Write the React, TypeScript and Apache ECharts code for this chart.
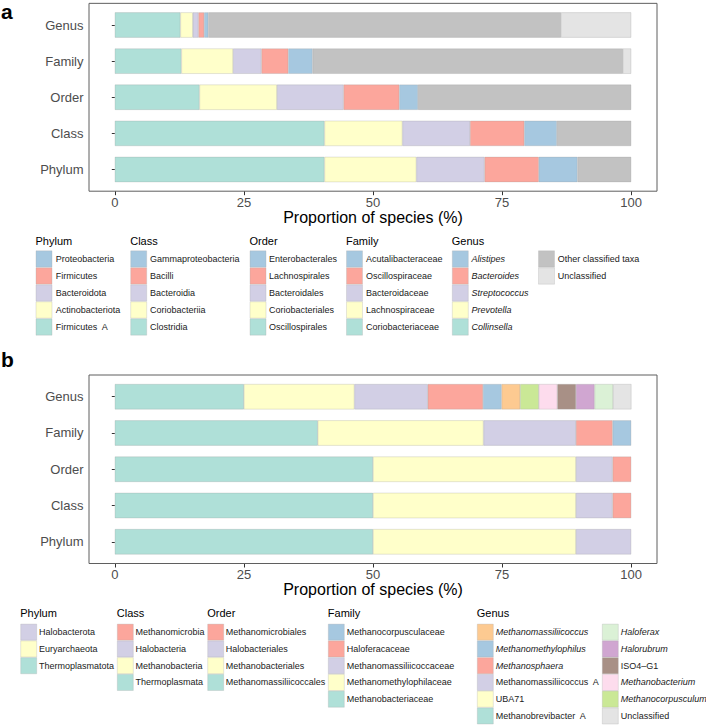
import React, { useEffect, useRef } from "react";
import * as echarts from "echarts";

const FONT = "'Liberation Sans', Arial, Helvetica, sans-serif";

// Taxonomic levels (y categories, bottom to top)
const levels = ["Phylum", "Class", "Order", "Family", "Genus"];
const xTicks = [0, 25, 50, 75, 100];

// ---- Panel a (bacteria): proportion of species (%) per segment, left to right
const bacPhylum = [40.6, 17.8, 13.2, 10.5, 7.5, 10.4, 0];
const bacClass = [40.6, 15.1, 13.1, 10.5, 6.3, 14.4, 0];
const bacOrder = [16.4, 15.0, 12.9, 10.8, 3.6, 41.3, 0];
const bacFamily = [12.9, 10.0, 5.5, 5.2, 4.7, 60.1, 1.6];
const bacGenus = [12.7, 2.4, 1.1, 1.1, 0.8, 68.3, 13.6];

// segment names (same left-to-right order)
const bacPhylumTaxa = ["Firmicutes  A", "Actinobacteriota", "Bacteroidota", "Firmicutes", "Proteobacteria"];
const bacClassTaxa = ["Clostridia", "Coriobacteriia", "Bacteroidia", "Bacilli", "Gammaproteobacteria"];
const bacOrderTaxa = ["Oscillospirales", "Coriobacteriales", "Bacteroidales", "Lachnospirales", "Enterobacterales"];
const bacFamilyTaxa = ["Coriobacteriaceae", "Lachnospiraceae", "Bacteroidaceae", "Oscillospiraceae", "Acutalibacteraceae"];
const bacGenusTaxa = ["Collinsella", "Prevotella", "Streptococcus", "Bacteroides", "Alistipes"];
const bacOtherTaxa = ["Other classified taxa", "Unclassified"];

const bacColors = ["#AFE0D8", "#FFFFCA", "#D2CFE5", "#FCA69C", "#A6C8E0", "#C2C2C2", "#E4E4E4"];

// ---- Panel b (archaea)
const arcPhylum = [50.0, 39.3, 10.7];
const arcClass = [50.0, 39.3, 7.1, 3.6];
const arcOrder = [50.0, 39.3, 7.1, 3.6];
const arcFamily = [39.3, 32.1, 17.9, 7.1, 3.6];
const arcGenus = [25.0, 21.4, 14.2, 10.7, 3.6, 3.6, 3.6, 3.6, 3.6, 3.6, 3.6, 3.6];

const arcPhylumTaxa = ["Thermoplasmatota", "Euryarchaeota", "Halobacterota"];
const arcClassTaxa = ["Thermoplasmata", "Methanobacteria", "Halobacteria", "Methanomicrobia"];
const arcOrderTaxa = ["Methanomassiliicoccales", "Methanobacteriales", "Halobacteriales", "Methanomicrobiales"];
const arcFamilyTaxa = ["Methanobacteriaceae", "Methanomethylophilaceae", "Methanomassiliicoccaceae", "Haloferacaceae", "Methanocorpusculaceae"];
const arcGenusTaxa = [
  "Methanobrevibacter  A", "UBA71", "Methanomassiliicoccus  A", "Methanosphaera", "Methanomethylophilus",
  "Methanomassiliicoccus", "Methanocorpusculum", "Methanobacterium", "ISO4\u2013G1", "Halorubrum", "Haloferax", "Unclassified",
];
const arcGenusItalic = [false, false, false, true, true, true, true, true, false, true, true, false];

const arcColors = [
  "#AFE0D8", "#FFFFCA", "#D2CFE5", "#FCA69C", "#A6C8E0", "#FDCA91",
  "#CAE896", "#FDDCED", "#A89086", "#D0A6D1", "#DBF1D6", "#E4E4E4",
];

function stackSeries(rows: number[][], colors: string[], gi: number) {
  const n = Math.max(...rows.map((r) => r.length));
  const out: any[] = [];
  for (let i = 0; i < n; i++) {
    out.push({
      type: "bar",
      stack: "s" + gi,
      xAxisIndex: gi,
      yAxisIndex: gi,
      barWidth: "70%",
      silent: true,
      data: rows.map((r) => (r[i] ? r[i] : "-")),
      itemStyle: { color: colors[i], borderColor: "rgba(150,150,150,0.5)", borderWidth: 0.5 },
    });
  }
  return out;
}

type Entry = { name: string; color: string; italic?: boolean };

function legendColumn(
  title: string,
  entries: Entry[],
  kx: number,
  tx: number,
  headerY: number,
  keyTop: number,
  kh: number
) {
  const els: any[] = [];
  if (title) {
    els.push({
      type: "text",
      silent: true,
      style: {
        text: title, x: kx - 0.5, y: headerY, fill: "#000", fontSize: 11, fontFamily: FONT,
        textAlign: "left", textVerticalAlign: "middle", verticalAlign: "middle",
      },
    });
  }
  entries.forEach((e, i) => {
    const y = keyTop + i * kh;
    els.push({
      type: "rect",
      silent: true,
      shape: { x: kx, y: y + 0.3, width: 16, height: kh - 0.6 },
      style: { fill: e.color, stroke: "rgba(170,170,170,0.6)", lineWidth: 0.5 },
    });
    els.push({
      type: "text",
      silent: true,
      style: {
        text: e.name, x: tx, y: y + kh / 2, fill: "#1a1a1a", fontSize: 9, fontFamily: FONT,
        fontStyle: e.italic ? "italic" : "normal",
        textAlign: "left", textVerticalAlign: "middle", verticalAlign: "middle",
      },
    });
  });
  return els;
}

function pick(taxa: string[], colors: string[], slots: number[], italic?: boolean | boolean[]): Entry[] {
  return slots.map((s) => ({
    name: taxa[s],
    color: colors[s],
    italic: Array.isArray(italic) ? italic[s] : !!italic,
  }));
}

function buildOption() {
  const panelA = { boxTop: 3.35, boxBottom: 191.2, gridTop: 6.95, gridH: 180.6 };
  const panelB = { boxTop: 375.0, boxBottom: 563.5, gridTop: 378.6, gridH: 181.3 };
  const boxLeft = 89;
  const boxRight = 657;
  const x0 = 114.8;
  const xw = 516.4;

  const grids = [panelA, panelB].map((p) => ({
    left: x0, width: xw, top: p.gridTop, height: p.gridH, containLabel: false,
  }));

  const xAxes = [panelA, panelB].map((p, i) => ({
    type: "value",
    gridIndex: i,
    min: 0,
    max: 100,
    interval: 25,
    offset: p.boxBottom - (p.gridTop + p.gridH),
    axisLine: { show: false },
    axisTick: { show: true, length: 4, lineStyle: { color: "#333", width: 1 } },
    axisLabel: {
      show: true, margin: 4.5, fontSize: 13, color: "#4d4d4d", fontFamily: FONT,
      customValues: xTicks,
    },
    splitLine: { show: false },
    name: "Proportion of species (%)",
    nameLocation: "middle",
    nameGap: 26,
    nameTextStyle: { fontSize: 16, color: "#000", fontFamily: FONT, verticalAlign: "middle" },
  }));

  const yAxes = [0, 1].map((i) => ({
    type: "category",
    gridIndex: i,
    data: levels,
    offset: x0 - boxLeft,
    axisLine: { show: false },
    axisTick: { show: true, length: 3, alignWithLabel: true, lineStyle: { color: "#333", width: 1 } },
    axisLabel: { margin: 5.5, fontSize: 13, color: "#4d4d4d", fontFamily: FONT },
    splitLine: { show: false },
  }));

  const series = [
    ...stackSeries([bacPhylum, bacClass, bacOrder, bacFamily, bacGenus], bacColors, 0),
    ...stackSeries([arcPhylum, arcClass, arcOrder, arcFamily, arcGenus], arcColors, 1),
  ];

  const graphics: any[] = [];
  [panelA, panelB].forEach((p) => {
    graphics.push({
      type: "rect",
      silent: true,
      z: 10,
      shape: { x: boxLeft, y: p.boxTop, width: boxRight - boxLeft, height: p.boxBottom - p.boxTop },
      style: { fill: "none", stroke: "#5f5f5f", lineWidth: 1 },
    });
  });
  graphics.push({
    type: "text", silent: true,
    style: { text: "a", x: 1, y: 11, fill: "#000", fontSize: 21, fontWeight: "bold", fontFamily: FONT, textVerticalAlign: "middle", verticalAlign: "middle" },
  });
  graphics.push({
    type: "text", silent: true,
    style: { text: "b", x: 1, y: 359.5, fill: "#000", fontSize: 21, fontWeight: "bold", fontFamily: FONT, textVerticalAlign: "middle", verticalAlign: "middle" },
  });

  // Panel a legend
  const aH = 240.5, aTop = 250.5, aKh = 17;
  const topDown5 = [4, 3, 2, 1, 0];
  graphics.push(...legendColumn("Phylum", pick(bacPhylumTaxa, bacColors, topDown5), 36, 55.7, aH, aTop, aKh));
  graphics.push(...legendColumn("Class", pick(bacClassTaxa, bacColors, topDown5), 130.7, 150, aH, aTop, aKh));
  graphics.push(...legendColumn("Order", pick(bacOrderTaxa, bacColors, topDown5), 250, 269, aH, aTop, aKh));
  graphics.push(...legendColumn("Family", pick(bacFamilyTaxa, bacColors, topDown5), 346.5, 366, aH, aTop, aKh));
  graphics.push(...legendColumn("Genus", pick(bacGenusTaxa, bacColors, topDown5, true), 452.3, 471.5, aH, aTop, aKh));
  graphics.push(...legendColumn("", bacOtherTaxa.map((n, i) => ({ name: n, color: bacColors[5 + i] })), 538.5, 557.7, aH, aTop, aKh));

  // Panel b legend
  const bH = 612.7, bTop = 623.8, bKh = 16.75;
  graphics.push(...legendColumn("Phylum", pick(arcPhylumTaxa, arcColors, [2, 1, 0]), 20.7, 39, bH, bTop, bKh));
  graphics.push(...legendColumn("Class", pick(arcClassTaxa, arcColors, [3, 2, 1, 0]), 117.3, 135.5, bH, bTop, bKh));
  graphics.push(...legendColumn("Order", pick(arcOrderTaxa, arcColors, [3, 2, 1, 0]), 207.7, 225.7, bH, bTop, bKh));
  graphics.push(...legendColumn("Family", pick(arcFamilyTaxa, arcColors, [4, 3, 2, 1, 0]), 328.3, 346.7, bH, bTop, bKh));
  graphics.push(...legendColumn("Genus", pick(arcGenusTaxa, arcColors, [5, 4, 3, 2, 1, 0], arcGenusItalic), 477.3, 495.7, bH, bTop, bKh));
  graphics.push(...legendColumn("", pick(arcGenusTaxa, arcColors, [10, 9, 8, 7, 6, 11], arcGenusItalic), 602.3, 620.7, bH, bTop, bKh));

  return {
    animation: false,
    backgroundColor: "#ffffff",
    textStyle: { fontFamily: FONT },
    grid: grids,
    xAxis: xAxes,
    yAxis: yAxes,
    series,
    graphic: { elements: graphics },
  };
}

export default function App() {
  const ref = useRef<HTMLDivElement>(null);
  useEffect(() => {
    document.body.style.margin = "0";
    const chart = echarts.init(ref.current!, null, { renderer: "svg" });
    chart.setOption(buildOption() as any);
    return () => chart.dispose();
  }, []);
  return <div ref={ref} style={{ width: 706, height: 725 }} />;
}
